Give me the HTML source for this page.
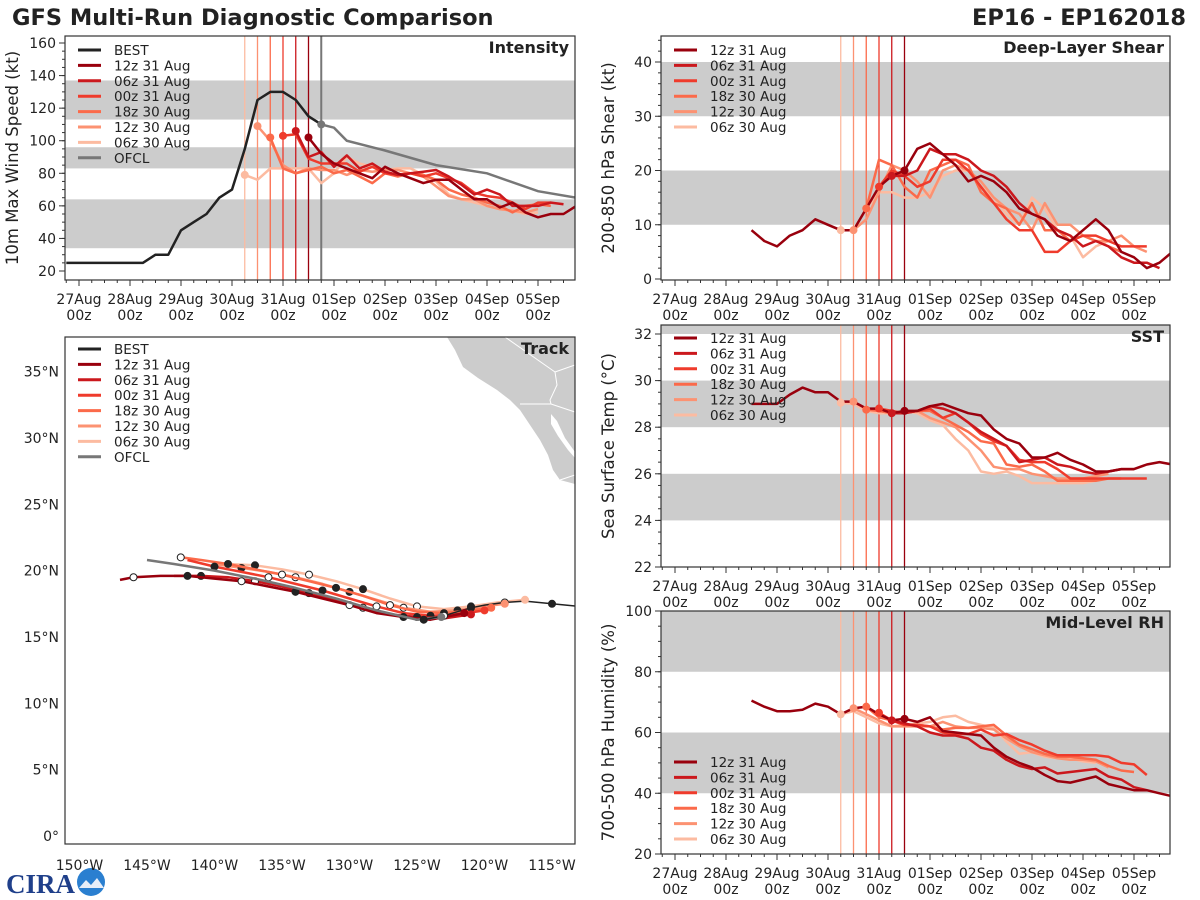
<!DOCTYPE html>
<html><head><meta charset="utf-8"><title>GFS Multi-Run Diagnostic Comparison</title>
<style>
html,body{margin:0;padding:0;background:#fff;}
svg{display:block;font-family:"DejaVu Sans","Liberation Sans",sans-serif;}
</style></head>
<body>
<svg id="fig" width="1200" height="900" viewBox="0 0 1200 900" xmlns="http://www.w3.org/2000/svg">
<rect width="1200" height="900" fill="#fff"/>
<text x="12" y="25" font-size="22.5" font-weight="bold" fill="#222">GFS Multi-Run Diagnostic Comparison</text>
<text x="1186" y="25" font-size="22.5" font-weight="bold" fill="#222" text-anchor="end">EP16 - EP162018</text>
<g>
<text x="6" y="893" font-size="27" font-weight="bold" fill="#1f3f8a" font-family="Liberation Serif,serif">CIRA</text>
<circle cx="91" cy="882" r="14" fill="#2a7fd0"/>
<path d="M79 888 L86 880 L91 885 L97 878 L104 888 Z" fill="#e8eef8"/>
</g>
</svg>
<script>
// ---------- data ----------
const runNames = ["12z 31 Aug","06z 31 Aug","00z 31 Aug","18z 30 Aug","12z 30 Aug","06z 30 Aug"];
const runColors = ["#99000d","#cb181d","#ef3b2c","#fb6a4a","#fc9272","#fcbba1"];
const runInitDays = [4.5,4.25,4.0,3.75,3.5,3.25];
const ofclDay = 4.75;
const dayLabels = ["27Aug","28Aug","29Aug","30Aug","31Aug","01Sep","02Sep","03Sep","04Sep","05Sep"];

// Intensity (kt), 6-hourly
const bestStart = -0.25;
const bestVmax = [25,25,25,25,25,25,25,30,30,45,50,55,65,70,95,125,130,130,125,115,110];
const ofclDays = [4.75,5.0,5.25,6.0,7.0,8.0,9.0,9.75];
const ofclVmax = [110,108,100,94,85,80,69,65];
const vmax12z31 = [102,92,86,83,80,77,84,80,77,74,76,76,70,64,64,59,62,56,53,55,55,60];
const vmax06z31 = [106,90,93,84,91,83,86,81,79,80,81,82,78,73,67,70,67,60,60,60,62,61];
const vmax00z31 = [103,104,89,86,86,86,81,84,80,79,80,78,80,77,74,68,66,65,62,58,62,62];
const vmax18z30 = [102,83,80,82,84,80,82,78,74,80,78,80,79,76,70,67,65,62,60,56,60,61,60];
const vmax12z30 = [109,100,85,80,83,82,82,79,82,81,82,82,80,78,72,66,64,64,60,58,57,56,58];
const vmax06z30 = [79,76,83,83,83,83,74,80,90,86,84,82,83,83,79,75,67,64,62,60,58,57,55,56];

// Shear (kt)
const histStart = 1.5;
const shearHist = [9,7,6,8,9,11,10,9,9,13,17,19,20];
const shear12z31 = [20,24,25,23,21,18,19,18,16,13,12,11,8,7,9,11,9,5,4,2,3,5];
const shear06z31 = [19,19,20,24,23,23,22,20,19,17,14,12,11,9,8,6,7,6,4,3,3,2];
const shear00z31 = [17,20,19,17,18,22,22,20,17,14,11,9,9,5,5,7,8,8,7,6,6,6];
const shear18z30 = [13,22,21,17,15,20,21,22,21,16,14,13,10,14,9,9,7,8,7,6,5];
const shear12z30 = [9,11,16,21,20,18,15,20,21,20,18,15,13,12,9,14,10,10,8,7,7,8,6,5];
const shear06z30 = [9,9,13,16,16,15,15,16,19,20,20,17,15,12,10,15,13,9,8,4,6,7];

// SST (C)
const sstHist = [29.0,29.0,29.0,29.4,29.7,29.5,29.5,29.1,29.1,28.8,28.8,28.6,28.7];
const sst12z31 = [28.7,28.7,28.9,29.0,28.8,28.6,28.5,27.9,27.5,27.3,26.7,26.7,26.9,26.6,26.4,26.1,26.1,26.2,26.2,26.4,26.5,26.4];
const sst06z31 = [28.6,28.6,28.7,28.9,28.8,28.6,28.2,27.8,27.5,27.2,26.5,26.6,26.7,26.4,26.3,26.1,26.0,26.1,26.2,26.2];
const sst00z31 = [28.8,28.7,28.6,28.7,28.8,28.4,28.6,28.2,27.7,27.4,27.2,26.6,26.5,26.5,26.2,25.8,25.8,25.8,25.8,25.8,25.8,25.8];
const sst18z30 = [28.75,28.7,28.6,28.6,28.7,28.7,28.4,28.1,27.8,27.4,27.3,26.4,26.3,26.4,26.1,25.7,25.7,25.7,25.7,25.8,25.8];
const sst12z30 = [29.1,28.8,28.7,28.6,28.6,28.7,28.4,28.2,28.0,27.5,27.0,26.3,26.2,26.2,26.0,25.9,25.8,25.8,25.8,25.9,26.0];
const sst06z30 = [29.05,29.0,28.7,28.6,28.6,28.7,28.6,28.3,28.1,27.5,27.0,26.1,26.0,26.1,25.9,25.6,25.6,25.6,25.6,25.6,25.7];

// RH (%)
const rhHist = [70.5,68.5,67,67,67.5,69.5,68.5,66,68,68.5,66,64,64.5];
const rh12z31 = [64.5,63.5,65,60.5,60,59.5,59,55,52,50,48.5,46,44,43.5,44.5,45.5,43,42,41,41,40,39];
const rh06z31 = [64,63,62,60,59,59,58,55,54,51,49,48,48.5,46.5,47,47.5,48,45.5,44.5,42,41];
const rh00z31 = [66.5,64,62.5,62.5,62,60,59.5,59.5,61,59,59.5,57.5,56,54,52.5,52.5,52.5,52.5,52,50,49.5,46];
const rh18z30 = [68.5,65,64,62.5,62.5,62,61,61.5,61.5,62,62.5,59,56,54.5,53,52,52,51.5,51,49,47.5,47];
const rh12z30 = [68,66,64,62,62,62,62,63.5,62,61.5,61.5,61,58,55.5,53.5,52.5,51.5,51,51,50.5,48.5];
const rh06z30 = [66,67,65,63,62,62.5,63,63.5,65,65.5,63.5,62.5,61.5,57,53,53.5,52,51.5,51.5,50.5,50];

// Track (lon degW, lat degN)
const bestLon = [112.2,113,115,117,118.5,120,121,122,123,124,124.5];
const bestLat = [17.3,17.3,17.5,17.7,17.6,17.4,17.2,16.9,16.6,16.4,16.3];
const ofclLon = [123.2,125,128,131,134,137,140,143,145];
const ofclLat = [16.5,16.3,17.0,17.9,18.7,19.4,20.0,20.5,20.8];
const trk12z31Lon = [121.5,124,126,128,130,132,134,136,138,140,142,144,146,147];
const trk12z31Lat = [16.8,16.3,16.5,16.8,17.4,17.9,18.4,18.8,19.2,19.4,19.6,19.6,19.5,19.3];
const trk06z31Lon = [121,123,125,127,129,131,133,135,137,139,141,143];
const trk06z31Lat = [16.7,16.4,16.5,16.7,17.2,17.8,18.3,18.8,19.2,19.5,19.6,19.6];
const trk00z31Lon = [120,122,124,126,128,130,132,134,136,138,140,142];
const trk00z31Lat = [17.0,16.7,16.6,16.8,17.3,17.9,18.5,19.0,19.5,19.9,20.3,20.8];
const trk18z30Lon = [119.5,121,123,125,127,129,131,133,135,137,139,141,142.5];
const trk18z30Lat = [17.2,17.0,16.8,16.9,17.4,18.1,18.7,19.2,19.7,20.1,20.5,20.8,21.0];
const trk12z30Lon = [118.5,120,122,124,126,128,130,132,134,136,138,140];
const trk12z30Lat = [17.5,17.3,17.0,16.9,17.2,17.8,18.4,19.0,19.5,19.9,20.2,20.5];
const trk06z30Lon = [117,119,121,123,125,127,129,131,133,135,137,139];
const trk06z30Lat = [17.8,17.6,17.3,17.1,17.3,17.9,18.6,19.2,19.7,20.1,20.4,20.5];

// ---------- drawing ----------
const NS = "http://www.w3.org/2000/svg";
const fig = document.getElementById("fig");
function el(tag, parent, attrs){ const e=document.createElementNS(NS,tag); for(const k in attrs) e.setAttribute(k,attrs[k]); (parent||fig).appendChild(e); return e; }
function txt(parent, x, y, s, size, anchor, extra){ const t=el("text",parent,Object.assign({x:x,y:y,"font-size":size,"text-anchor":anchor||"start",fill:"#222"},extra||{})); t.textContent=s; return t; }

function timePanel(cfg){
  const g = el("g", fig, {});
  
  
  const X = t => cfg.x0 + 51*t;
  const Y = v => cfg.yB - (v-cfg.vMin)*cfg.pxPer;
  const clipId = cfg.name+"-clip";
  const defs = el("defs", g, {});
  const cp = el("clipPath", defs, {id:clipId});
  el("rect", cp, {x:cfg.L, y:cfg.T, width:cfg.R-cfg.L, height:cfg.B-cfg.T});
  const plot = el("g", g, {"clip-path":"url(#"+clipId+")"});
  cfg.bands.forEach(b=>{
    const r = el("rect", plot, {x:cfg.L, y:Y(b[1]), width:cfg.R-cfg.L, height:Y(b[0])-Y(b[1]), fill:"#cccccc"});
    
    
  });
  runInitDays.forEach((d,i)=>{
    const l = el("line", plot, {x1:X(d), x2:X(d), y1:cfg.T, y2:cfg.B, stroke:runColors[i], "stroke-width":1.3});
    
    
  });
  if(cfg.ofcl){
    const l = el("line", plot, {x1:X(ofclDay), x2:X(ofclDay), y1:cfg.T, y2:cfg.B, stroke:"#777", "stroke-width":2});
    
    
  }
  function series(start, vals, color, w, name){
    const pts = vals.map((v,i)=>X(start+0.25*i).toFixed(1)+","+Y(v).toFixed(1)).join(" ");
    const p = el("polyline", plot, {points:pts, fill:"none", stroke:color, "stroke-width":w, "stroke-linejoin":"round"});
    
    
    return p;
  }
  if(cfg.extra) cfg.extra(plot, X, Y, series);
  for(let i=cfg.runs.length-1;i>=0;i--){
    series(runInitDays[i], cfg.runs[i], runColors[i], 2.5, cfg.name+'-run-'+runNames[i].replace(/ /g,'-').toLowerCase());
  }
  if(cfg.hist) series(histStart, cfg.hist, runColors[0], 2.5, cfg.name+'-history');
  for(let i=cfg.runs.length-1;i>=0;i--){
    const c = el("circle", plot, {cx:X(runInitDays[i]), cy:Y(cfg.runs[i][0]), r:4, fill:runColors[i]});
    
    
  }
  if(cfg.ofcl){
    const c = el("circle", plot, {cx:X(ofclDay), cy:Y(ofclVmax[0]), r:4, fill:"#777"});
    
    
  }
  const fr = el("rect", g, {x:cfg.L, y:cfg.T, width:cfg.R-cfg.L, height:cfg.B-cfg.T, fill:"none", stroke:"#333", "stroke-width":1.2});
  
  
  cfg.yTicks.forEach(v=>{
    el("line", g, {x1:cfg.L-6, x2:cfg.L, y1:Y(v), y2:Y(v), stroke:"#333"});
    const t = txt(g, cfg.L-9, Y(v)+5, String(v), 14, "end");
    
    
  });
  for(let v=cfg.vMin; v<=cfg.vMax; v+=cfg.minor){
    const y=Y(v); if(y<cfg.T-0.5||y>cfg.B+0.5) continue;
    el("line", g, {x1:cfg.L-3, x2:cfg.L, y1:y, y2:y, stroke:"#333"});
  }
  for(let i=-1;i<=40;i++){
    const x=X(i*0.25); if(x<cfg.L||x>cfg.R) continue;
    const major = i%4===0;
    el("line", g, {x1:x, x2:x, y1:cfg.B, y2:cfg.B+(major?6:3), stroke:"#333"});
  }
  dayLabels.forEach((d,i)=>{
    const t1 = txt(g, X(i), cfg.B+24, d, 14, "middle");
    
    
    const t2 = txt(g, X(i), cfg.B+40, "00z", 14, "middle");
    
    
  });
  const yt = txt(g, 0, 0, cfg.yTitle, 16.5, "middle", {transform:"translate("+(cfg.L-47)+","+((cfg.T+cfg.B)/2)+") rotate(-90)"});
  
  
  const pt = txt(g, cfg.R-6, cfg.T+17, cfg.title, 16, "end", {"font-weight":"bold"});
  
  
  drawLegend(g, cfg.L+13, cfg.legY, cfg.legBest);
}

function drawLegend(g, x, y0, withBest){
  const lg = el("g", g, {});
  
  
  const items = [];
  if(withBest) items.push(["BEST","#222"]);
  runNames.forEach((n,i)=>items.push([n,runColors[i]]));
  if(withBest) items.push(["OFCL","#777"]);
  items.forEach((it,i)=>{
    const y = y0 + i*15.4;
    const l = el("line", lg, {x1:x, x2:x+23, y1:y, y2:y, stroke:it[1], "stroke-width":3});
    
    
    const t = txt(lg, x+36, y+5, it[0], 13.5, "start");
    
    
  });
}

timePanel({name:"intensity", L:65,R:575,T:36,B:280, x0:79, yB:271, vMin:20, vMax:165, pxPer:32.57/20,
  bands:[[34,64],[83,96],[113,137]], yTicks:[20,40,60,80,100,120,140,160], minor:5,
  yTitle:"10m Max Wind Speed (kt)", title:"Intensity", legY:50, legBest:true, ofcl:true,
  runs:[vmax12z31,vmax06z31,vmax00z31,vmax18z30,vmax12z30,vmax06z30],
  extra:function(plot,X,Y,series){
    series(bestStart, bestVmax, "#222", 2.5, "best-track-intensity");
    const pts = ofclDays.map((d,i)=>X(d).toFixed(1)+","+Y(ofclVmax[i]).toFixed(1)).join(" ");
    const p = el("polyline", plot, {points:pts, fill:"none", stroke:"#777", "stroke-width":2.5});
    
    
  }});

timePanel({name:"shear", L:661,R:1170,T:36,B:280, x0:675, yB:279, vMin:0, vMax:45, pxPer:5.425,
  bands:[[10,20],[30,40]], yTicks:[0,10,20,30,40], minor:2,
  yTitle:"200-850 hPa Shear (kt)", title:"Deep-Layer Shear", legY:50, legBest:false,
  hist:shearHist, runs:[shear12z31,shear06z31,shear00z31,shear18z30,shear12z30,shear06z30]});

timePanel({name:"sst", L:661,R:1170,T:325,B:567, x0:675, yB:567, vMin:22, vMax:32.4, pxPer:23.3,
  bands:[[24,26],[28,30],[32,33]], yTicks:[22,24,26,28,30,32], minor:0.5,
  yTitle:"Sea Surface Temp (°C)", title:"SST", legY:338, legBest:false,
  hist:sstHist, runs:[sst12z31,sst06z31,sst00z31,sst18z30,sst12z30,sst06z30]});

timePanel({name:"rh", L:661,R:1170,T:611,B:854, x0:675, yB:854, vMin:20, vMax:100, pxPer:3.0375,
  bands:[[40,60],[80,100]], yTicks:[20,40,60,80,100], minor:5,
  yTitle:"700-500 hPa Humidity (%)", title:"Mid-Level RH", legY:762, legBest:false,
  hist:rhHist, runs:[rh12z31,rh06z31,rh00z31,rh18z30,rh12z30,rh06z30]});

(function(){
  const L=65,R=575,T=337,B=844;
  const g = el("g", fig, {});
  
  
  const X = lon => 147 + (145-lon)*13.5;
  const Y = lat => 836 - lat*13.27;
  const defs = el("defs", g, {});
  const cp = el("clipPath", defs, {id:"trk-clip"});
  el("rect", cp, {x:L,y:T,width:R-L,height:B-T});
  const plot = el("g", g, {"clip-path":"url(#trk-clip)"});
  const land = el("path", plot, {d:"M447 337 L455 350 L463 367 L478 378 L497 390 L510 400 L520 410 L530 425 L540 440 L548 455 L553 470 L560 480 L575 484 L575 337 Z", fill:"#cccccc"});
  
  
  const gulf = el("path", plot, {d:"M551 414 L557 421 L565 438 L575 452 L575 458 L568 450 L558 436 L551 424 Z", fill:"#fff"});
  
  
  el("path", plot, {d:"M505 337 L555 372 L557 385 L550 400 L551 404 L520 404 M551 404 L575 412 M555 372 L575 365 M560 480 L575 475", fill:"none", stroke:"#fff", "stroke-width":1});
  function track(lons, lats, color, w, name, dots){
    const pts = lons.map((l,i)=>X(l).toFixed(1)+","+Y(lats[i]).toFixed(1)).join(" ");
    const p = el("polyline", plot, {points:pts, fill:"none", stroke:color, "stroke-width":w, "stroke-linejoin":"round"});
    
    
    if(dots){
      lons.forEach((l,i)=>{ if(i===0||i%2) return;
        const c = el("circle", plot, {cx:X(l), cy:Y(lats[i]), r:3.5, fill:(i%4===0)?"#fff":"#222", stroke:"#222", "stroke-width":1});
        
        
      });
    }
  }
  const tl = [[trk06z30Lon,trk06z30Lat],[trk12z30Lon,trk12z30Lat],[trk18z30Lon,trk18z30Lat],[trk00z31Lon,trk00z31Lat],[trk06z31Lon,trk06z31Lat],[trk12z31Lon,trk12z31Lat]];
  tl.forEach((tr,k)=>{ const i=5-k; track(tr[0],tr[1],runColors[i],2.5,'track-'+runNames[i].replace(/ /g,'-').toLowerCase(),true); });
  track(ofclLon, ofclLat, "#777", 2.5, "ofcl-track", false);
  track(bestLon, bestLat, "#222", 1.5, "best-track", true);
  tl.forEach((tr,k)=>{ const i=5-k;
    const c = el("circle", plot, {cx:X(tr[0][0]), cy:Y(tr[1][0]), r:4, fill:runColors[i]});
    
    
  });
  const c2 = el("circle", plot, {cx:X(ofclLon[0]), cy:Y(ofclLat[0]), r:4, fill:"#777"});
  
  
  const fr = el("rect", g, {x:L,y:T,width:R-L,height:B-T,fill:"none",stroke:"#333","stroke-width":1.2});
  
  
  [0,5,10,15,20,25,30,35].forEach(lat=>{
    const t = txt(g, L-6, Y(lat)+5, lat===0?"0°":lat+"°N", 14, "end");
    
    
  });
  [150,145,140,135,130,125,120,115].forEach(lon=>{
    const t = txt(g, X(lon), 870, lon+"°W", 14, "middle");
    
    
  });
  const pt = txt(g, R-6, T+17, "Track", 16, "end", {"font-weight":"bold"});
  
  
  drawLegend(g, L+13, 349, true);
})();
</script>
</body></html>
